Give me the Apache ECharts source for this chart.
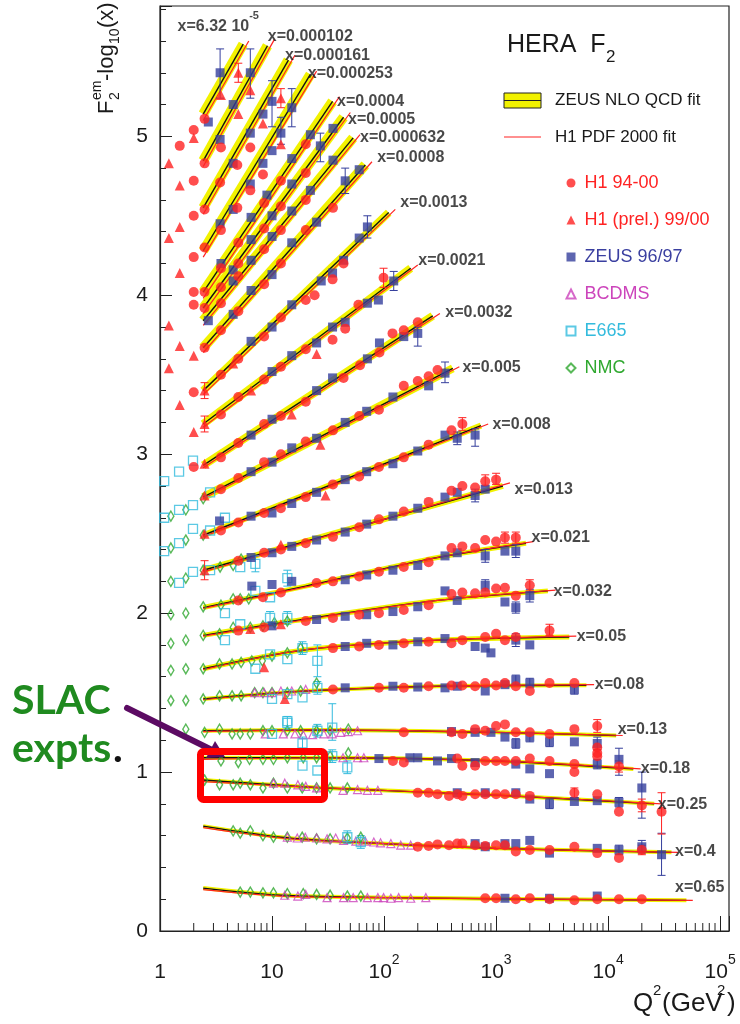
<!DOCTYPE html>
<html>
<head>
<meta charset="utf-8">
<script src="https://cdn.jsdelivr.net/npm/echarts@6/dist/echarts.min.js"></script>
<style>
  html, body { margin: 0; padding: 0; background: #fff; }
  #chart { width: 740px; height: 1024px; }
</style>
</head>
<body>
<div id="chart"></div>
<script>
// bin labels and where they sit (Q2, F2 - log10 x)
const binLabels = ['{b|x=6.32 10}{sup|-5}', 'x=0.000102', 'x=0.000161', 'x=0.000253', 'x=0.0004', 'x=0.0005',
  'x=0.000632', 'x=0.0008', 'x=0.0013', 'x=0.0021', 'x=0.0032', 'x=0.005', 'x=0.008', 'x=0.013', 'x=0.021',
  'x=0.032', 'x=0.05', 'x=0.08', 'x=0.13', 'x=0.18', 'x=0.25', 'x=0.4', 'x=0.65'];
const labelPos = [[1.45, 5.715], [9.27, 5.627], [13.2, 5.507], [21.1, 5.394], [38.4, 5.218], [48.2, 5.105],
  [61.7, 4.991], [87.7, 4.866], [141, 4.577], [204, 4.218], [356, 3.885], [506, 3.539], [938, 3.18], [1476, 2.772],
  [2096, 2.47], [3296, 2.13], [5300, 1.847], [7680, 1.545], [12300, 1.262], [19800, 1.017], [28100, 0.791],
  [40000, 0.496], [40000, 0.269]];

// ZEUS NLO QCD fit, one curve per x bin
const zeusFit = [
  [[2.43, 5.14], [5.53, 5.58]],
  [[2.43, 4.846], [9.1, 5.57]],
  [[2.43, 4.55], [14, 5.48]],
  [[2.43, 4.28], [22, 5.39]],
  [[2.43, 4.02], [34.7, 5.22]],
  [[2.43, 3.92], [43.5, 5.12]],
  [[2.43, 3.84], [53, 4.99]],
  [[2.43, 3.67], [68, 4.82]],
  [[2.43, 3.40], [110, 4.52]],
  [[2.43, 3.19], [173, 4.17]],
  [[2.43, 2.93], [272, 3.87]],
  [[2.43, 2.73], [411, 3.54]],
  [[2.43, 2.49], [733, 3.18]],
  [[2.43, 2.27], [1150, 2.80]],
  [[2.43, 2.035], [20, 2.17], [300, 2.35], [1850, 2.44]],
  [[2.43, 1.86], [15, 1.95], [300, 2.08], [2900, 2.14]],
  [[2.43, 1.65], [20, 1.77], [300, 1.83], [4500, 1.85]],
  [[2.43, 1.46], [20, 1.51], [300, 1.54], [6400, 1.546]],
  [[2.43, 1.26], [30, 1.265], [1000, 1.25], [11800, 1.23]],
  [[2.43, 1.09], [30, 1.09], [1000, 1.07], [16800, 1.02]],
  [[2.43, 0.95], [30, 0.90], [1000, 0.855], [25800, 0.80]],
  [[2.43, 0.66], [12, 0.59], [50, 0.56], [1000, 0.52], [36800, 0.495]],
  [[2.43, 0.27], [12, 0.225], [100, 0.21], [50000, 0.193]]
];

// H1 PDF 2000 fit
const h1Fit = [
  [[2.43, 5.10], [6.2, 5.60]],
  [[2.43, 4.81], [10.5, 5.61]],
  [[2.43, 4.51], [16, 5.51]],
  [[2.43, 4.24], [25, 5.41]],
  [[2.43, 3.98], [40, 5.25]],
  [[2.43, 3.885], [50, 5.15]],
  [[2.43, 3.81], [61, 5.01]],
  [[2.43, 3.64], [78, 4.84]],
  [[2.43, 3.375], [126, 4.54]],
  [[2.43, 3.17], [200, 4.19]],
  [[2.43, 2.915], [315, 3.885]],
  [[2.43, 2.72], [470, 3.55]],
  [[2.43, 2.48], [850, 3.19]],
  [[2.43, 2.26], [1330, 2.82]],
  [[2.43, 2.03], [20, 2.165], [300, 2.35], [2150, 2.45]],
  [[2.43, 1.855], [15, 1.945], [300, 2.08], [3400, 2.145]],
  [[2.43, 1.645], [20, 1.77], [300, 1.83], [5200, 1.855]],
  [[2.43, 1.455], [20, 1.51], [300, 1.54], [7500, 1.55]],
  [[2.43, 1.255], [30, 1.265], [1000, 1.25], [13500, 1.23]],
  [[2.43, 1.08], [30, 1.09], [1000, 1.07], [19500, 1.02]],
  [[2.43, 0.94], [30, 0.90], [1000, 0.855], [30000, 0.80]],
  [[2.43, 0.65], [12, 0.585], [50, 0.56], [1000, 0.52], [42000, 0.495]],
  [[2.43, 0.26], [12, 0.22], [100, 0.21], [57000, 0.193]]
];

// H1 94-00
const h1Points = [
  [1.5, 4.94], [2.0, 5.04], [2.0, 4.72], [2.0, 4.50], [2.0, 4.24], [2.0, 4.02], [2.0, 3.94], [2.0, 3.39], [2.0, 2.92],
  [2.5, 5.11],
  [2.5, 4.83], [3.5, 4.93],
  [2.5, 4.54], [3.44, 4.71], [4.9, 4.82], [6.4, 4.93],
  [2.5, 4.30], [3.5, 4.41], [4.9, 4.55], [6.4, 4.66], [8.3, 4.76],
  [2.5, 4.02], [3.5, 4.17], [5, 4.33], [8.5, 4.58], [12, 4.72], [20, 4.95],
  [2.5, 3.92], [3.5, 4.05], [5, 4.20], [8.5, 4.42], [12, 4.56], [20, 4.77],
  [3.5, 3.95], [5, 4.12], [8.5, 4.29], [12, 4.41], [20, 4.60],
  [2.5, 3.67], [3.5, 3.78], [5, 3.90], [8.5, 4.07], [12, 4.20], [20, 4.41], [35, 4.55],
  [3.5, 3.50], [5, 3.60], [8.5, 3.74], [12, 3.86], [20, 3.97], [24, 4.00], [34.7, 4.10], [43.5, 4.20],
  [3.5, 3.25], [5, 3.36], [8.5, 3.47], [12, 3.55], [20, 3.66], [34.7, 3.72], [45, 3.79], [59, 3.94], [99, 4.11],
  [3.5, 2.98], [5, 3.07], [8.5, 3.19], [12, 3.24], [20, 3.33], [43.5, 3.48], [61, 3.56], [91, 3.64], [119, 3.76], [150, 3.78], [200, 3.83],
  [3.5, 2.78], [5, 2.85], [8.5, 2.95], [12, 3.00], [20, 3.08], [35, 3.15], [60, 3.24], [90, 3.28], [150, 3.43], [200, 3.46], [250, 3.49], [300, 3.53],
  [3.5, 2.52], [5, 2.57], [8.5, 2.63], [12, 2.66], [20, 2.73], [35, 2.81], [60, 2.86], [90, 2.92], [150, 2.98], [250, 3.06], [400, 3.15], [500, 3.19],
  [5, 2.33], [8.5, 2.38], [12, 2.40], [20, 2.44], [35, 2.48], [60, 2.54], [90, 2.59], [150, 2.64], [250, 2.70], [400, 2.77], [500, 2.80], [650, 2.79], [800, 2.83], [1000, 2.84],
  [5, 2.08], [8.3, 2.10], [12, 2.13], [25, 2.19], [35, 2.20], [60, 2.23], [90, 2.26], [150, 2.29], [250, 2.32], [400, 2.41], [500, 2.42], [650, 2.41], [800, 2.46], [1000, 2.45], [1200, 2.475], [1500, 2.475],
  [5, 1.89], [8.5, 1.91], [20, 1.95], [35, 1.97], [60, 1.99], [90, 2.00], [150, 2.02], [250, 2.05], [400, 2.12], [500, 2.13], [650, 2.125], [800, 2.13], [1000, 2.155], [1200, 2.16], [1500, 2.11], [2000, 2.175],
  [35, 1.78], [60, 1.79], [90, 1.80], [150, 1.81], [250, 1.82], [400, 1.81], [500, 1.83], [800, 1.85], [1000, 1.87], [1200, 1.83], [1500, 1.85], [3000, 1.89],
  [35, 1.52], [90, 1.53], [150, 1.53], [250, 1.54], [400, 1.545], [500, 1.545], [650, 1.54], [800, 1.56], [1000, 1.545], [1200, 1.56], [1500, 1.54], [2000, 1.51], [3000, 1.56], [5000, 1.56],
  [150, 1.25], [400, 1.25], [500, 1.24], [650, 1.27], [800, 1.26], [1000, 1.29], [1200, 1.30], [1500, 1.25], [2000, 1.25], [3000, 1.24], [5000, 1.27], [8000, 1.29], [8000, 1.155], [8000, 1.12],
  [120, 1.07], [150, 1.06], [450, 1.085], [500, 1.04], [650, 1.04], [800, 1.07], [1000, 1.07], [1200, 1.07], [1500, 1.07], [2000, 1.085], [3000, 1.07], [5000, 1.05], [5000, 1.00], [8000, 1.10], [12500, 1.035],
  [200, 0.87], [250, 0.87], [300, 0.86], [380, 0.85], [450, 0.86], [500, 0.85], [650, 0.86], [800, 0.86], [1000, 0.86], [1200, 0.86], [1500, 0.86], [2000, 0.85], [5000, 0.87], [8000, 0.86], [12500, 0.75], [20000, 0.79], [30000, 0.75],
  [200, 0.53], [250, 0.535], [300, 0.545], [380, 0.54], [450, 0.55], [500, 0.55], [650, 0.54], [800, 0.535], [1000, 0.54], [1200, 0.54], [1500, 0.50], [2000, 0.51], [3000, 0.51], [5000, 0.53], [8000, 0.49], [12500, 0.46], [20000, 0.51],
  [800, 0.206], [1000, 0.206], [1500, 0.20], [2000, 0.206], [3000, 0.20], [5000, 0.193], [8000, 0.20], [12500, 0.20], [20000, 0.20]
];

// H1 (prel.) 99/00
const h1PrelPoints = [
  [1.2, 4.83], [1.5, 4.69], [2.0, 4.99], [1.5, 4.43], [1.2, 4.36], [1.5, 4.14], [1.2, 3.81], [1.5, 3.68], [2.0, 3.62],
  [1.2, 3.54], [1.5, 3.31], [2.0, 3.14],
  [3.5, 5.26], [5.0, 5.40], [5.0, 5.14], [6.4, 5.29], [8.3, 5.08], [12, 5.24], [12, 4.95],
  [2.5, 3.40], [4.5, 3.57], [2.5, 3.19], [6.5, 3.40], [25, 3.63], [2.5, 2.94], [15, 3.25],
  [2.5, 2.74], [27, 3.06], [2.5, 2.50], [30, 2.74], [2.5, 2.27], [12, 2.43],
  [6.4, 1.90], [12, 1.93], [8.5, 1.66], [13, 1.46]
];

// ZEUS 96/97
const zeusPoints = [
  [2.7, 5.09], [3.44, 5.40],
  [3.44, 4.98], [4.5, 5.20], [6.4, 5.40],
  [4.5, 4.83], [6.4, 5.02], [8.3, 5.14], [10, 5.22],
  [3.44, 4.45], [4.5, 4.54], [6.4, 4.70], [8.3, 4.83], [10, 4.91], [12, 5.02], [15, 5.18],
  [3.5, 4.20], [6.5, 4.49], [9, 4.63], [15, 4.86], [22, 5.01],
  [4.5, 4.16], [6.5, 4.35], [10, 4.50], [15, 4.70], [27, 4.94], [35, 5.05],
  [2.7, 3.84], [4.5, 4.09], [6.5, 4.22], [10, 4.37], [15, 4.53], [22, 4.66], [35, 4.85],
  [4.5, 3.88], [6.5, 4.03], [10, 4.13], [15, 4.33], [25, 4.46], [45, 4.72], [60, 4.79],
  [6.5, 3.71], [10, 3.80], [15, 3.94], [27.5, 4.09], [34.7, 4.14], [43.5, 4.22], [60, 4.36], [71, 4.43],
  [10, 3.52], [15, 3.62], [25, 3.70], [34.7, 3.80], [45, 3.83], [71, 3.95], [89, 3.97], [122, 4.09],
  [6.5, 3.12], [10, 3.22], [25, 3.40], [34.7, 3.48], [71, 3.60], [91, 3.70], [150, 3.74], [200, 3.76],
  [6.5, 2.89], [10, 2.95], [15, 3.04], [25, 3.10], [45, 3.20], [70, 3.27], [120, 3.36], [250, 3.43], [350, 3.51],
  [3.4, 2.58], [6.5, 2.61], [10, 2.63], [15, 2.69], [25, 2.76], [45, 2.84], [70, 2.89], [120, 2.94], [200, 3.02], [350, 3.12], [450, 3.10], [650, 3.12],
  [6.5, 2.35], [10, 2.38], [15, 2.42], [25, 2.46], [45, 2.51], [70, 2.56], [120, 2.61], [200, 2.66], [350, 2.73], [450, 2.76], [650, 2.74], [800, 2.78],
  [6.6, 2.17], [10, 2.18], [15, 2.20], [45, 2.21], [70, 2.24], [120, 2.27], [200, 2.30], [350, 2.36], [450, 2.38], [800, 2.36], [1200, 2.39], [1500, 2.39],
  [10, 1.92], [25, 1.96], [45, 1.98], [70, 1.99], [120, 2.01], [200, 2.04], [350, 2.14], [450, 2.08], [800, 2.175], [1200, 2.07], [1500, 2.035], [2000, 2.11],
  [45, 1.79], [70, 1.81], [120, 1.80], [200, 1.82], [350, 1.84], [650, 1.79], [800, 1.78], [900, 1.75], [1500, 1.83], [2000, 1.80],
  [45, 1.53], [120, 1.54], [200, 1.535], [350, 1.53], [450, 1.54], [800, 1.51], [1200, 1.55], [1500, 1.58], [2000, 1.56], [5000, 1.52],
  [400, 1.255], [650, 1.25], [900, 1.25], [1200, 1.22], [1500, 1.18], [2000, 1.22], [3000, 1.19], [5000, 1.19], [8000, 1.18],
  [90, 1.085], [170, 1.09], [200, 1.09], [300, 1.07], [400, 1.085], [650, 1.06], [1500, 1.05], [2000, 1.02], [3000, 0.99], [8000, 1.05], [12500, 1.08],
  [450, 0.87], [800, 0.87], [1500, 0.87], [2000, 0.83], [3000, 0.80], [5000, 0.815], [8000, 0.82], [12500, 0.81], [20000, 0.90],
  [650, 0.55], [800, 0.53], [1200, 0.55], [1500, 0.55], [2000, 0.57], [3000, 0.49], [8000, 0.52], [12500, 0.51], [20000, 0.53], [30000, 0.48],
  [1200, 0.206], [3000, 0.206], [8000, 0.22]
];

// BCDMS
const bcdmsPoints = [
  [7, 1.50], [8.5, 1.50], [10, 1.50], [12, 1.51], [15, 1.51], [20, 1.52],
  [8.7, 1.24], [12.6, 1.24], [16, 1.24], [19, 1.235], [23, 1.235], [29, 1.24], [34.5, 1.24], [41, 1.25], [48, 1.255], [58, 1.26],
  [43, 1.09], [58, 1.09], [66, 1.09],
  [10.3, 0.93], [13, 0.93], [17, 0.92], [20, 0.91], [25, 0.90], [43, 0.885], [58, 0.89], [71, 0.885], [88, 0.885],
  [13.7, 0.59], [16.8, 0.585], [19.8, 0.59], [25, 0.585], [31, 0.58], [37, 0.585], [43.5, 0.57], [56, 0.565], [68, 0.565],
  [81, 0.56], [93, 0.555], [115, 0.55], [141, 0.54], [173, 0.54],
  [13, 0.225], [17, 0.22], [20, 0.23], [31, 0.21], [43.5, 0.21], [53, 0.21], [71, 0.21], [88, 0.21], [99, 0.21],
  [115, 0.206], [135, 0.21], [173, 0.206], [236, 0.21]
];

// E665
const e665Points = [
  [1.09, 2.83], [1.48, 2.89], [1.97, 2.96], [1.09, 2.60], [1.48, 2.65], [1.97, 2.68], [1.09, 2.39], [1.48, 2.44],
  [1.97, 2.53], [2.8, 2.76], [2.8, 2.52], [3.8, 2.60], [1.97, 2.26], [1.48, 2.19], [2.8, 2.27], [5.2, 2.29],
  [7.1, 2.31], [7.1, 2.14], [9.6, 2.10], [13.7, 2.22], [3.8, 2.00], [5.2, 1.93], [9.6, 1.97], [13.7, 1.97],
  [3.8, 1.83], [7.1, 1.65], [9.6, 1.74], [13.7, 1.71], [18.7, 1.78], [25.4, 1.70], [10, 1.46], [13.7, 1.49],
  [18.7, 1.47], [25.4, 1.53], [13.7, 1.32], [34.5, 1.28], [10, 1.24], [13.7, 1.31], [18.7, 1.18], [25.4, 1.26],
  [18.7, 1.04], [25.4, 1.01], [34.5, 1.10], [47, 1.03], [47, 0.59], [62, 0.56]
];

// NMC
const nmcPoints = [
  [1.25, 2.61], [1.7, 2.65], [1.25, 2.41], [1.7, 2.46], [1.25, 2.20], [1.7, 2.22], [1.25, 1.99], [1.7, 2.00],
  [1.25, 1.81], [1.7, 1.83], [1.25, 1.64], [1.7, 1.65], [1.25, 1.45], [1.7, 1.45], [1.7, 1.27],
  [2.43, 2.72], [2.43, 2.49], [2.43, 2.27], [2.43, 2.04], [2.43, 1.86], [2.43, 1.65], [2.43, 1.46], [2.5, 1.25],
  [3.44, 2.29], [4.5, 2.30], [5.3, 2.34],
  [3.5, 2.05], [4.5, 2.09], [5.2, 2.09], [6.2, 2.09],
  [3.4, 1.87], [4.5, 1.91], [6.4, 1.91], [8.3, 1.92], [10.5, 1.94], [13.7, 1.95],
  [3.4, 1.68], [4.4, 1.68], [5.3, 1.69], [6.6, 1.70], [8.2, 1.70], [10, 1.73], [13.7, 1.75], [18, 1.78],
  [3.4, 1.48], [4.4, 1.48], [5.3, 1.48], [7, 1.50], [8.3, 1.50], [10, 1.50], [13.7, 1.50], [18, 1.51], [25, 1.56],
  [3.4, 1.27], [4.4, 1.24], [5.2, 1.24], [6.4, 1.24], [8.3, 1.26], [10, 1.26], [13.7, 1.26], [18, 1.26], [25, 1.26], [33, 1.26], [48, 1.27],
  [3.5, 1.07], [5, 1.06], [6.3, 1.08], [8.3, 1.08], [10.3, 1.08], [13.7, 1.09], [19, 1.09], [25, 1.09], [33, 1.10], [48, 1.12],
  [2.5, 0.95], [3.4, 0.92], [4.5, 0.92], [5.2, 0.93], [6.4, 0.92], [8.3, 0.90], [10.3, 0.93], [13.7, 0.90], [18.6, 0.90], [25, 0.90], [33, 0.90], [47, 0.90],
  [4.5, 0.63], [5.2, 0.615], [6.4, 0.63], [8.3, 0.60], [10.3, 0.59], [13.7, 0.59], [18.6, 0.59], [25, 0.58], [33, 0.58], [47, 0.585], [62, 0.59],
  [5.2, 0.245], [6.4, 0.245], [8.3, 0.24], [10.3, 0.24], [13.7, 0.235], [19, 0.235], [25, 0.23], [33, 0.225], [47, 0.22], [62, 0.22]
];

// error bars: [Q2, low, high]
const h1Errors = [[5.0, 5.34, 5.46], [12, 5.18, 5.30], [99, 4.05, 4.17], [500, 3.15, 3.23], [800, 2.80, 2.87],
  [1000, 2.81, 2.88], [1200, 2.44, 2.51], [1500, 2.44, 2.51], [2000, 2.14, 2.21], [3000, 1.86, 1.93],
  [8000, 1.25, 1.33], [12500, 1.00, 1.07], [5000, 0.84, 0.90], [20000, 0.75, 0.83], [30000, 0.61, 0.87],
  [20000, 0.48, 0.54], [2.5, 2.21, 2.33], [2.5, 3.14, 3.24], [2.5, 3.35, 3.45]];
const zeusErrors = [[3.44, 5.24, 5.55], [6.4, 5.24, 5.55], [10, 5.06, 5.35], [12, 4.95, 5.12], [15, 5.06, 5.30],
  [27, 4.84, 5.02], [45, 4.64, 4.80], [71, 4.36, 4.50], [122, 4.03, 4.15], [200, 3.68, 3.80], [350, 3.45, 3.58],
  [450, 3.06, 3.14], [650, 3.05, 3.16], [650, 2.70, 2.78], [800, 2.32, 2.40], [1500, 2.35, 2.43], [800, 2.14, 2.21],
  [1500, 2.00, 2.07], [2000, 2.07, 2.15], [1500, 1.79, 1.87], [1500, 1.55, 1.61], [2000, 1.53, 1.59], [5000, 1.49, 1.55],
  [1500, 1.15, 1.21], [2000, 1.19, 1.25], [3000, 1.16, 1.22], [8000, 1.14, 1.22], [8000, 1.02, 1.08], [12500, 0.98, 1.15],
  [3000, 0.77, 0.83], [12500, 0.78, 0.84], [20000, 0.71, 1.00], [12500, 0.48, 0.54], [20000, 0.49, 0.57], [30000, 0.35, 0.615]];
const e665Errors = [[7.1, 2.26, 2.36], [13.7, 2.17, 2.27], [9.6, 1.93, 2.01], [13.7, 1.93, 2.01], [18.7, 1.74, 1.82],
  [25.4, 1.60, 1.80], [25.4, 1.49, 1.57], [34.5, 1.20, 1.43], [25.4, 1.22, 1.30], [34.5, 1.06, 1.14], [47, 0.99, 1.07],
  [47, 0.55, 0.63], [62, 0.52, 0.60], [13.7, 1.27, 1.35], [18.7, 1.14, 1.22]];

// axis ticks / labels
const xTickLabels = ['{b|1}', '{b|10}', '{b|10}{s|2}', '{b|10}{s|3}', '{b|10}{s|4}', '{b|10}{s|5}'];
const xMinorTicks = [2, 3, 4, 5, 6, 7, 8, 9, 20, 30, 40, 50, 60, 70, 80, 90, 200, 300, 400, 500, 600, 700, 800, 900,
  2000, 3000, 4000, 5000, 6000, 7000, 8000, 9000, 20000, 30000, 40000, 50000, 60000, 70000, 80000, 90000];

const FONT = '"Liberation Sans", Arial, Helvetica, sans-serif';
const RED = '#ff2222', BLUE = '#343e9c', MAGENTA = '#cc44bb', CYAN = '#33bbdd', GREEN = '#2fa82f';
const YELLOW = '#f2f200', INK = '#1a1a1a';

const chart = echarts.init(document.getElementById('chart'));

const bandWidth = i => (i < 8 ? 10 : i < 12 ? 8 : i < 14 ? 6 : i < 17 ? 5 : 4);

const errorSeries = (data, color) => ({
  type: 'custom', silent: true, z: 4, data: data,
  encode: { x: 0, y: [1, 2] },
  renderItem: (params, api) => {
    const lo = api.coord([api.value(0), api.value(1)]);
    const hi = api.coord([api.value(0), api.value(2)]);
    const st = { stroke: color, lineWidth: 1 };
    return {
      type: 'group', children: [
        { type: 'line', shape: { x1: lo[0], y1: lo[1], x2: hi[0], y2: hi[1] }, style: st },
        { type: 'line', shape: { x1: lo[0] - 4, y1: lo[1], x2: lo[0] + 4, y2: lo[1] }, style: st },
        { type: 'line', shape: { x1: hi[0] - 4, y1: hi[1], x2: hi[0] + 4, y2: hi[1] }, style: st }
      ]
    };
  }
});

const series = [];
zeusFit.forEach((pts, i) => series.push({
  type: 'line', name: 'ZEUS NLO QCD fit', data: pts, symbol: 'none', silent: true, z: 1,
  smooth: pts.length > 2 ? 0.3 : false, lineStyle: { color: YELLOW, width: bandWidth(i), cap: 'butt' }
}));
zeusFit.forEach(pts => series.push({
  type: 'line', name: 'ZEUS NLO QCD fit', data: pts, symbol: 'none', silent: true, z: 2,
  smooth: pts.length > 2 ? 0.3 : false, lineStyle: { color: '#111', width: 1.4 }
}));
h1Fit.forEach(pts => series.push({
  type: 'line', name: 'H1 PDF 2000 fit', data: pts, symbol: 'none', silent: true, z: 2,
  smooth: pts.length > 2 ? 0.3 : false, lineStyle: { color: RED, width: 1.2 }
}));

// minor ticks of the log axis
series.push({
  type: 'custom', silent: true, z: 3, data: xMinorTicks.map(v => [v, 0]),
  renderItem: (params, api) => {
    const p = api.coord([api.value(0), 0]);
    return { type: 'line', shape: { x1: p[0], y1: p[1], x2: p[0], y2: p[1] - 8 }, style: { stroke: '#222', lineWidth: 1 } };
  }
});

series.push(errorSeries(e665Errors, CYAN));
series.push(
  { type: 'scatter', name: 'NMC', data: nmcPoints, symbol: 'diamond', symbolSize: [6, 10], z: 5,
    itemStyle: { color: 'rgba(255,255,255,0)', borderColor: GREEN, borderWidth: 1.5 } },
  { type: 'scatter', name: 'BCDMS', data: bcdmsPoints, symbol: 'triangle', symbolSize: 8, z: 5,
    itemStyle: { color: 'rgba(255,255,255,0)', borderColor: MAGENTA, borderWidth: 1.2 } },
  { type: 'scatter', name: 'E665', data: e665Points, symbol: 'rect', symbolSize: 9, z: 5,
    itemStyle: { color: 'rgba(255,255,255,0)', borderColor: CYAN, borderWidth: 1.3 } }
);
series.push(errorSeries(zeusErrors, BLUE));
series.push(errorSeries(h1Errors, RED));
series.push(
  { type: 'scatter', name: 'ZEUS 96/97', data: zeusPoints, symbol: 'rect', symbolSize: 9, z: 6,
    itemStyle: { color: BLUE } },
  { type: 'scatter', name: 'H1 (prel.) 99/00', data: h1PrelPoints, symbol: 'triangle', symbolSize: 10, z: 6,
    itemStyle: { color: RED } },
  { type: 'scatter', name: 'H1 94-00', data: h1Points, symbol: 'circle', symbolSize: 10, z: 7,
    itemStyle: { color: RED } }
);

// bin labels
series.push({
  type: 'scatter', name: 'bins', data: labelPos, symbolSize: 1, silent: true, z: 8,
  itemStyle: { color: 'rgba(0,0,0,0)' },
  label: {
    show: true, position: [0, 0], align: 'left', verticalAlign: 'middle',
    color: INK, fontFamily: FONT, fontSize: 16, fontWeight: 'bold',
    formatter: p => binLabels[p.dataIndex],
    rich: {
      b: { fontFamily: FONT, fontSize: 16, fontWeight: 'bold', color: INK, lineHeight: 24, verticalAlign: 'bottom' },
      sup: { fontFamily: FONT, fontSize: 11, fontWeight: 'bold', color: INK, lineHeight: 10, verticalAlign: 'top' }
    }
  }
});

const txt = (text, x, y, size, extra) => Object.assign({
  type: 'text', z: 100, silent: true,
  style: Object.assign({ text: text, x: x, y: y, fill: INK, font: size + 'px ' + FONT, verticalAlign: 'middle' }, extra || {})
});

const option = {
  animation: false,
  backgroundColor: '#fff',
  grid: { left: 160, right: 11, top: 6, bottom: 93, show: true, borderColor: '#222', borderWidth: 1.2,
          containLabel: false, outerBoundsMode: 'none' },
  xAxis: {
    type: 'log', logBase: 10, min: 1, max: 120000,
    axisLine: { lineStyle: { color: '#222', width: 1.2 } },
    axisTick: { inside: true, length: 15, lineStyle: { color: '#222' } },
    splitLine: { show: false },
    axisLabel: {
      margin: 22, color: INK, fontFamily: FONT,
      formatter: v => {
        const e = Math.log10(v);
        return Math.abs(e - Math.round(e)) < 1e-6 ? (xTickLabels[Math.round(e)] || '') : '';
      },
      rich: {
        b: { fontFamily: FONT, fontSize: 21, color: INK, lineHeight: 30, verticalAlign: 'bottom' },
        s: { fontFamily: FONT, fontSize: 14, color: INK, lineHeight: 12, verticalAlign: 'top' }
      }
    }
  },
  yAxis: {
    type: 'value', min: 0, max: 5.82, interval: 1,
    axisLine: { show: true, lineStyle: { color: '#222', width: 1.2 } },
    axisTick: { show: true, inside: true, length: 12, lineStyle: { color: '#222' } },
    minorTick: { show: true, splitNumber: 5, length: 6, lineStyle: { color: '#222' } },
    splitLine: { show: false },
    axisLabel: {
      margin: 12, fontSize: 21, color: INK, fontFamily: FONT, showMaxLabel: false,
      formatter: v => (Math.abs(v - Math.round(v)) < 1e-6 ? String(Math.round(v)) : '')
    }
  },
  legend: {
    left: 565.5, top: 173, orient: 'vertical', padding: 0, selectedMode: false,
    itemWidth: 9, itemHeight: 9, itemGap: 17,
    textStyle: { fontFamily: FONT, fontSize: 18, lineHeight: 20, padding: [0, 0, 0, 4] },
    data: [
      { name: 'H1 94-00', textStyle: { color: RED } },
      { name: 'H1 (prel.) 99/00', textStyle: { color: RED } },
      { name: 'ZEUS 96/97', textStyle: { color: '#3a3fa0' } },
      { name: 'BCDMS', textStyle: { color: MAGENTA } },
      { name: 'E665', textStyle: { color: CYAN } },
      { name: 'NMC', textStyle: { color: GREEN } }
    ]
  },
  graphic: [
    // title
    txt('HERA  F', 507, 45, 25),
    txt('2', 606, 57, 17),
    // fit legend
    { type: 'rect', z: 100, silent: true, shape: { x: 504, y: 93, width: 37, height: 15 },
      style: { fill: YELLOW, stroke: '#222', lineWidth: 1 } },
    { type: 'line', z: 100, silent: true, shape: { x1: 504, y1: 100.5, x2: 541, y2: 100.5 },
      style: { stroke: '#222', lineWidth: 1 } },
    txt('ZEUS NLO QCD fit', 555, 100, 17),
    { type: 'line', z: 100, silent: true, shape: { x1: 504, y1: 137, x2: 541, y2: 137 },
      style: { stroke: RED, lineWidth: 1.2 } },
    txt('H1 PDF 2000 fit', 555, 137, 17),
    // x axis title
    txt('Q', 633, 1004, 26),
    txt('2', 653, 991, 15),
    txt('(GeV', 662, 1004, 26),
    txt('2', 717, 991, 15),
    txt(')', 727, 1004, 26),
    // y axis title (rotated)
    { type: 'group', x: 107, y: 114, rotation: Math.PI / 2, z: 100, silent: true, children: [
      { type: 'text', style: { text: 'F', x: 0, y: 0, font: '22px ' + FONT, fill: INK, verticalAlign: 'middle' } },
      { type: 'text', style: { text: '2', x: 14, y: 8, font: '14px ' + FONT, fill: INK, verticalAlign: 'middle' } },
      { type: 'text', style: { text: 'em', x: 14, y: -10, font: '14px ' + FONT, fill: INK, verticalAlign: 'middle' } },
      { type: 'text', style: { text: '-log', x: 33, y: 0, font: '22px ' + FONT, fill: INK, verticalAlign: 'middle' } },
      { type: 'text', style: { text: '10', x: 70, y: 8, font: '14px ' + FONT, fill: INK, verticalAlign: 'middle' } },
      { type: 'text', style: { text: '(x)', x: 86, y: 0, font: '22px ' + FONT, fill: INK, verticalAlign: 'middle' } }
    ] },
    // SLAC annotation
    txt('SLAC', 12, 701, 41, { fill: '#1f8a1f', font: 'bold 41px Lato, "Open Sans", sans-serif' }),
    txt('expts', 12, 749, 41, { fill: '#1f8a1f', font: 'bold 41px Lato, "Open Sans", sans-serif' }),
    txt('.', 113, 749, 41, { fill: '#111', font: 'bold 41px Lato, "Open Sans", sans-serif' }),
    { type: 'line', z: 100, silent: true, shape: { x1: 127, y1: 708, x2: 212, y2: 750 },
      style: { stroke: '#5c0b63', lineWidth: 6, lineCap: 'round' } },
    { type: 'polygon', z: 100, silent: true, shape: { points: [[225, 757], [206, 758], [215, 741]] },
      style: { fill: '#5c0b63' } },
    { type: 'rect', z: 100, silent: true, shape: { x: 200.5, y: 751.5, width: 124, height: 48, r: 3 },
      style: { fill: 'none', stroke: '#ff0000', lineWidth: 7 } }
  ],
  series: series
};

chart.setOption(option);
</script>
</body>
</html>
